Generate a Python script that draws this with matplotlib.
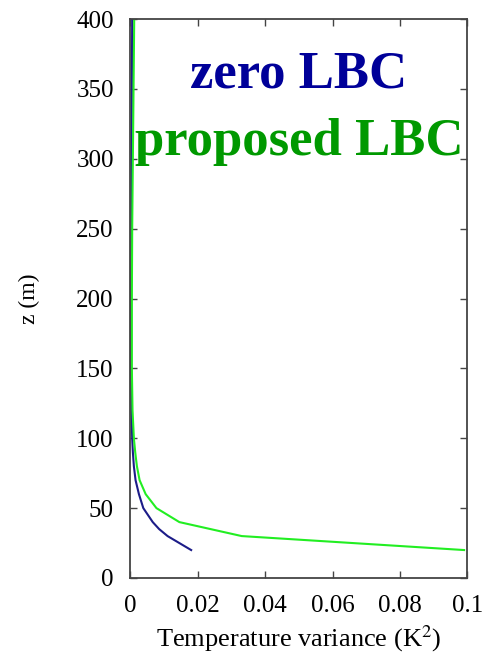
import matplotlib
matplotlib.use("Agg")
import matplotlib.pyplot as plt

plt.rcParams['font.family'] = ['Liberation Serif', 'DejaVu Serif']
plt.rcParams['mathtext.fontset'] = 'stix'

# Height above ground (m)
z_green = [20, 30, 40, 50, 60, 70, 80, 90, 100, 120, 150, 200, 250, 300, 350, 400]
var_green = [0.099, 0.033, 0.0145, 0.0077, 0.0045, 0.0027, 0.0019, 0.0014, 0.0010,
             0.0006, 0.0004, 0.0004, 0.0005, 0.0007, 0.0009, 0.0011]

z_blue = [20, 25, 30, 35, 40, 50, 60, 70, 80, 90, 100, 120, 150, 200, 250, 300, 350, 400]
var_blue = [0.018, 0.0145, 0.011, 0.0085, 0.0066, 0.0038, 0.0025, 0.0015, 0.0010,
            0.0007, 0.0005, 0.0003, 0.0002, 0.0002, 0.0003, 0.0003, 0.0004, 0.0005]

xticks = [0, 0.02, 0.04, 0.06, 0.08, 0.1]
xticklabels = ['0', '0.02', '0.04', '0.06', '0.08', '0.1']
yticks = [0, 50, 100, 150, 200, 250, 300, 350, 400]

fig = plt.figure(figsize=(4.85, 6.57), dpi=100)
ax = fig.add_axes([130.5 / 485, 79 / 657, 337 / 485, 559 / 657])

ax.plot(var_blue, z_blue, color='#1c1c88', lw=1.5)
ax.plot(var_green, z_green, color='#22ee22', lw=1.5)

ax.set_xlim(0, 0.1)
ax.set_ylim(0, 400)
ax.set_xticks(xticks)
ax.set_xticklabels(xticklabels)
ax.set_yticks(yticks)
ax.tick_params(direction='in', top=True, right=True, length=5, width=1,
               color='#444444', labelsize=18)
ax.tick_params(axis='x', pad=12)
ax.tick_params(axis='y', pad=12)
for s in ax.spines.values():
    s.set_color('#444444')
    s.set_linewidth(1.3)

ax.set_xlabel('Temperature variance (K$^2$)', fontsize=19, labelpad=5)
ax.set_ylabel('z (m)', fontsize=17, labelpad=26)

ax.text(0.5, 0.9, 'zero LBC', transform=ax.transAxes, ha='center', va='center',
        fontsize=38, fontweight='bold', color='#000099')
ax.text(0.5, 0.78, 'proposed LBC', transform=ax.transAxes, ha='center', va='center',
        fontsize=38, fontweight='bold', color='#009900')

fig.savefig('out.png', dpi=100)
